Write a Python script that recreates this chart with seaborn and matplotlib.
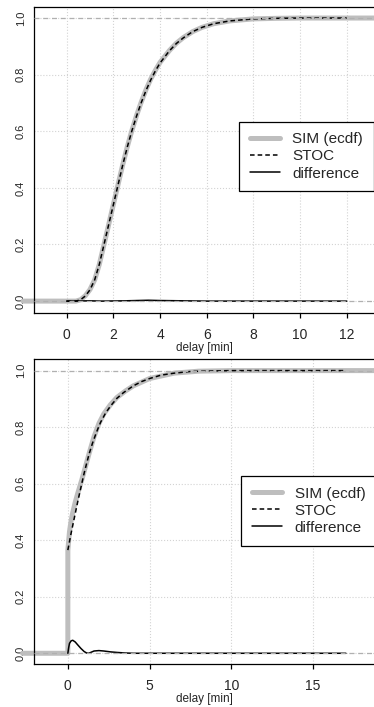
import matplotlib
matplotlib.use("Agg")
import matplotlib.pyplot as plt
import seaborn as sns

# upper panel: STOC curve, SIM ecdf and difference
stoc_top_x = [0, 0.4, 0.6, 0.8, 1.0, 1.2, 1.4, 1.6, 1.8, 2.0, 2.2, 2.4, 2.6, 2.8, 3.0, 3.2, 3.4, 3.6,
              3.8, 4.0, 4.4, 4.7, 5.0, 5.4, 5.8, 6.3, 7.0, 8.0, 9.0, 10.0, 12.0]
stoc_top_y = [0, 0, 0.005, 0.018, 0.04, 0.075, 0.13, 0.2, 0.27, 0.34, 0.41, 0.48, 0.545, 0.603, 0.655,
              0.702, 0.744, 0.781, 0.813, 0.841, 0.884, 0.91, 0.93, 0.952, 0.967, 0.98, 0.99, 0.997,
              0.999, 1.0, 1.0]
sim_top_x = [-1.87, 0, 0.4, 0.6, 0.8, 1.0, 1.2, 1.4, 1.6, 1.8, 2.0, 2.2, 2.4, 2.6, 2.8, 3.0, 3.2, 3.4,
             3.6, 3.8, 4.0, 4.4, 4.7, 5.0, 5.4, 5.8, 6.3, 7.0, 8.0, 9.0, 10.0, 14.0]
sim_top_y = [0, 0, 0, 0.005, 0.019, 0.041, 0.075, 0.13, 0.2, 0.27, 0.341, 0.411, 0.481, 0.546, 0.604,
             0.657, 0.704, 0.747, 0.784, 0.815, 0.843, 0.885, 0.911, 0.931, 0.952, 0.967, 0.98, 0.99,
             0.997, 0.999, 1.0, 1.0]
diff_top_x = [0, 1.0, 1.5, 2.5, 3.0, 3.5, 4.0, 5.0, 6.0, 12.0]
diff_top_y = [0, 0.001, 0, 0.001, 0.002, 0.003, 0.002, 0.001, 0, 0]

# lower panel
stoc_bot_x = [0, 0.1, 0.2, 0.4, 0.6, 0.85, 1.0, 1.15, 1.3, 1.5, 1.75, 2.0, 2.3, 2.6, 3.0, 3.4, 4.0,
              4.5, 5.0, 5.7, 6.5, 7.5, 9.0, 10.0, 17.0]
stoc_bot_y = [0.365, 0.395, 0.425, 0.48, 0.535, 0.6, 0.638, 0.672, 0.705, 0.742, 0.782, 0.817, 0.849,
              0.874, 0.902, 0.922, 0.946, 0.961, 0.972, 0.984, 0.991, 0.997, 0.999, 1.0, 1.0]
sim_bot_x = [-2.77, 0, 0, 0.1, 0.2, 0.3, 0.45, 0.6, 0.85, 1.0, 1.3, 1.6, 1.9, 2.2, 2.6, 3.0, 3.5, 4.0,
             5.0, 6.5, 8.0, 10.0, 20.0]
sim_bot_y = [0, 0, 0.365, 0.43, 0.469, 0.498, 0.534, 0.565, 0.613, 0.644, 0.707, 0.766, 0.813, 0.847,
             0.879, 0.905, 0.927, 0.946, 0.972, 0.991, 0.998, 1.0, 1.0]
diff_bot_x = [0, 0.05, 0.1, 0.2, 0.3, 0.45, 0.6, 0.8, 1.0, 1.15, 1.27, 1.4, 1.6, 1.9, 2.2, 2.6, 3.0,
              3.5, 4.0, 17.0]
diff_bot_y = [0, 0.02, 0.035, 0.044, 0.046, 0.04, 0.03, 0.017, 0.006, 0.001, 0.0, 0.003, 0.008, 0.0095,
              0.008, 0.005, 0.003, 0.001, 0.0, 0.0]

top_ticks = [0, 2, 4, 6, 8, 10, 12]
bot_ticks = [0, 5, 10, 15]
y_ticks = [0.0, 0.2, 0.4, 0.6, 0.8, 1.0]

sns.set_style("white")
plt.rcParams["font.family"] = ["Liberation Sans", "DejaVu Sans"]

fig = plt.figure(figsize=(3.74, 7.07), dpi=100)

SIM_COL = "#bebebe"


def draw_panel(ax, sim_x, sim_y, stoc_x, stoc_y, diff_x, diff_y, xlim, ylim, xticks):
    # grid
    for t in xticks:
        ax.axvline(t, color="#d3d3d3", ls=":", lw=0.8, zorder=0)
    for t in y_ticks:
        ax.axhline(t, color="#d3d3d3", ls=":", lw=0.8, zorder=0)

    sns.lineplot(x=sim_x, y=sim_y, ax=ax, color=SIM_COL, lw=3.6, estimator=None, sort=False,
                 label="SIM (ecdf)", zorder=2, clip_on=False)
    sns.lineplot(x=stoc_x, y=stoc_y, ax=ax, color="black", lw=1.1, estimator=None, sort=False,
                 label="STOC", zorder=3)
    ax.lines[-1].set_dashes((3, 2))
    sns.lineplot(x=diff_x, y=diff_y, ax=ax, color="black", lw=1.1, estimator=None, sort=False,
                 label="difference", zorder=3)
    # gray dashed reference lines at 0 and 1
    for h in (0, 1):
        ax.axhline(h, color="#b0b0b0", ls=(0, (4, 3)), lw=0.9, zorder=4)

    ax.set_xlim(*xlim)
    ax.set_ylim(*ylim)
    ax.set_xticks(xticks)
    ax.set_yticks(y_ticks)
    ax.set_yticklabels(["%.1f" % v for v in y_ticks], rotation=90, va="center", fontsize=8)
    ax.set_xticklabels([str(t) for t in xticks], fontsize=10)
    ax.tick_params(axis="x", length=3.6, width=0.9, pad=7.5, color="black", direction="out", bottom=True)
    ax.tick_params(axis="y", length=0, pad=6)
    ax.set_xlabel("delay [min]", fontsize=8.5, labelpad=0)
    ax.set_ylabel("")
    for s in ("left", "bottom", "top"):
        ax.spines[s].set_color("black")
        ax.spines[s].set_linewidth(0.9)
    ax.spines["right"].set_visible(False)


ax1 = fig.add_axes([0.0909, 0.5573, 0.9091, 0.4328])
draw_panel(ax1, sim_top_x, sim_top_y, stoc_top_x, stoc_top_y, diff_top_x, diff_top_y,
           (-1.40, 13.17), (-0.042, 1.039), top_ticks)
ax1.legend(loc="upper left", bbox_to_anchor=(0.603, 0.625), fontsize=11, frameon=True, fancybox=False,
           edgecolor="black", framealpha=1, handlelength=2.0, handletextpad=0.8, labelspacing=0.2,
           borderpad=0.7, borderaxespad=0).get_frame().set_linewidth(0.9)

ax2 = fig.add_axes([0.0909, 0.0608, 0.9091, 0.431])
draw_panel(ax2, sim_bot_x, sim_bot_y, stoc_bot_x, stoc_bot_y, diff_bot_x, diff_bot_y,
           (-2.07, 18.72), (-0.038, 1.04), bot_ticks)
ax2.legend(loc="upper left", bbox_to_anchor=(0.609, 0.617), fontsize=11, frameon=True, fancybox=False,
           edgecolor="black", framealpha=1, handlelength=2.0, handletextpad=0.8, labelspacing=0.2,
           borderpad=0.7, borderaxespad=0).get_frame().set_linewidth(0.9)

fig.savefig("out.png", dpi=100)
